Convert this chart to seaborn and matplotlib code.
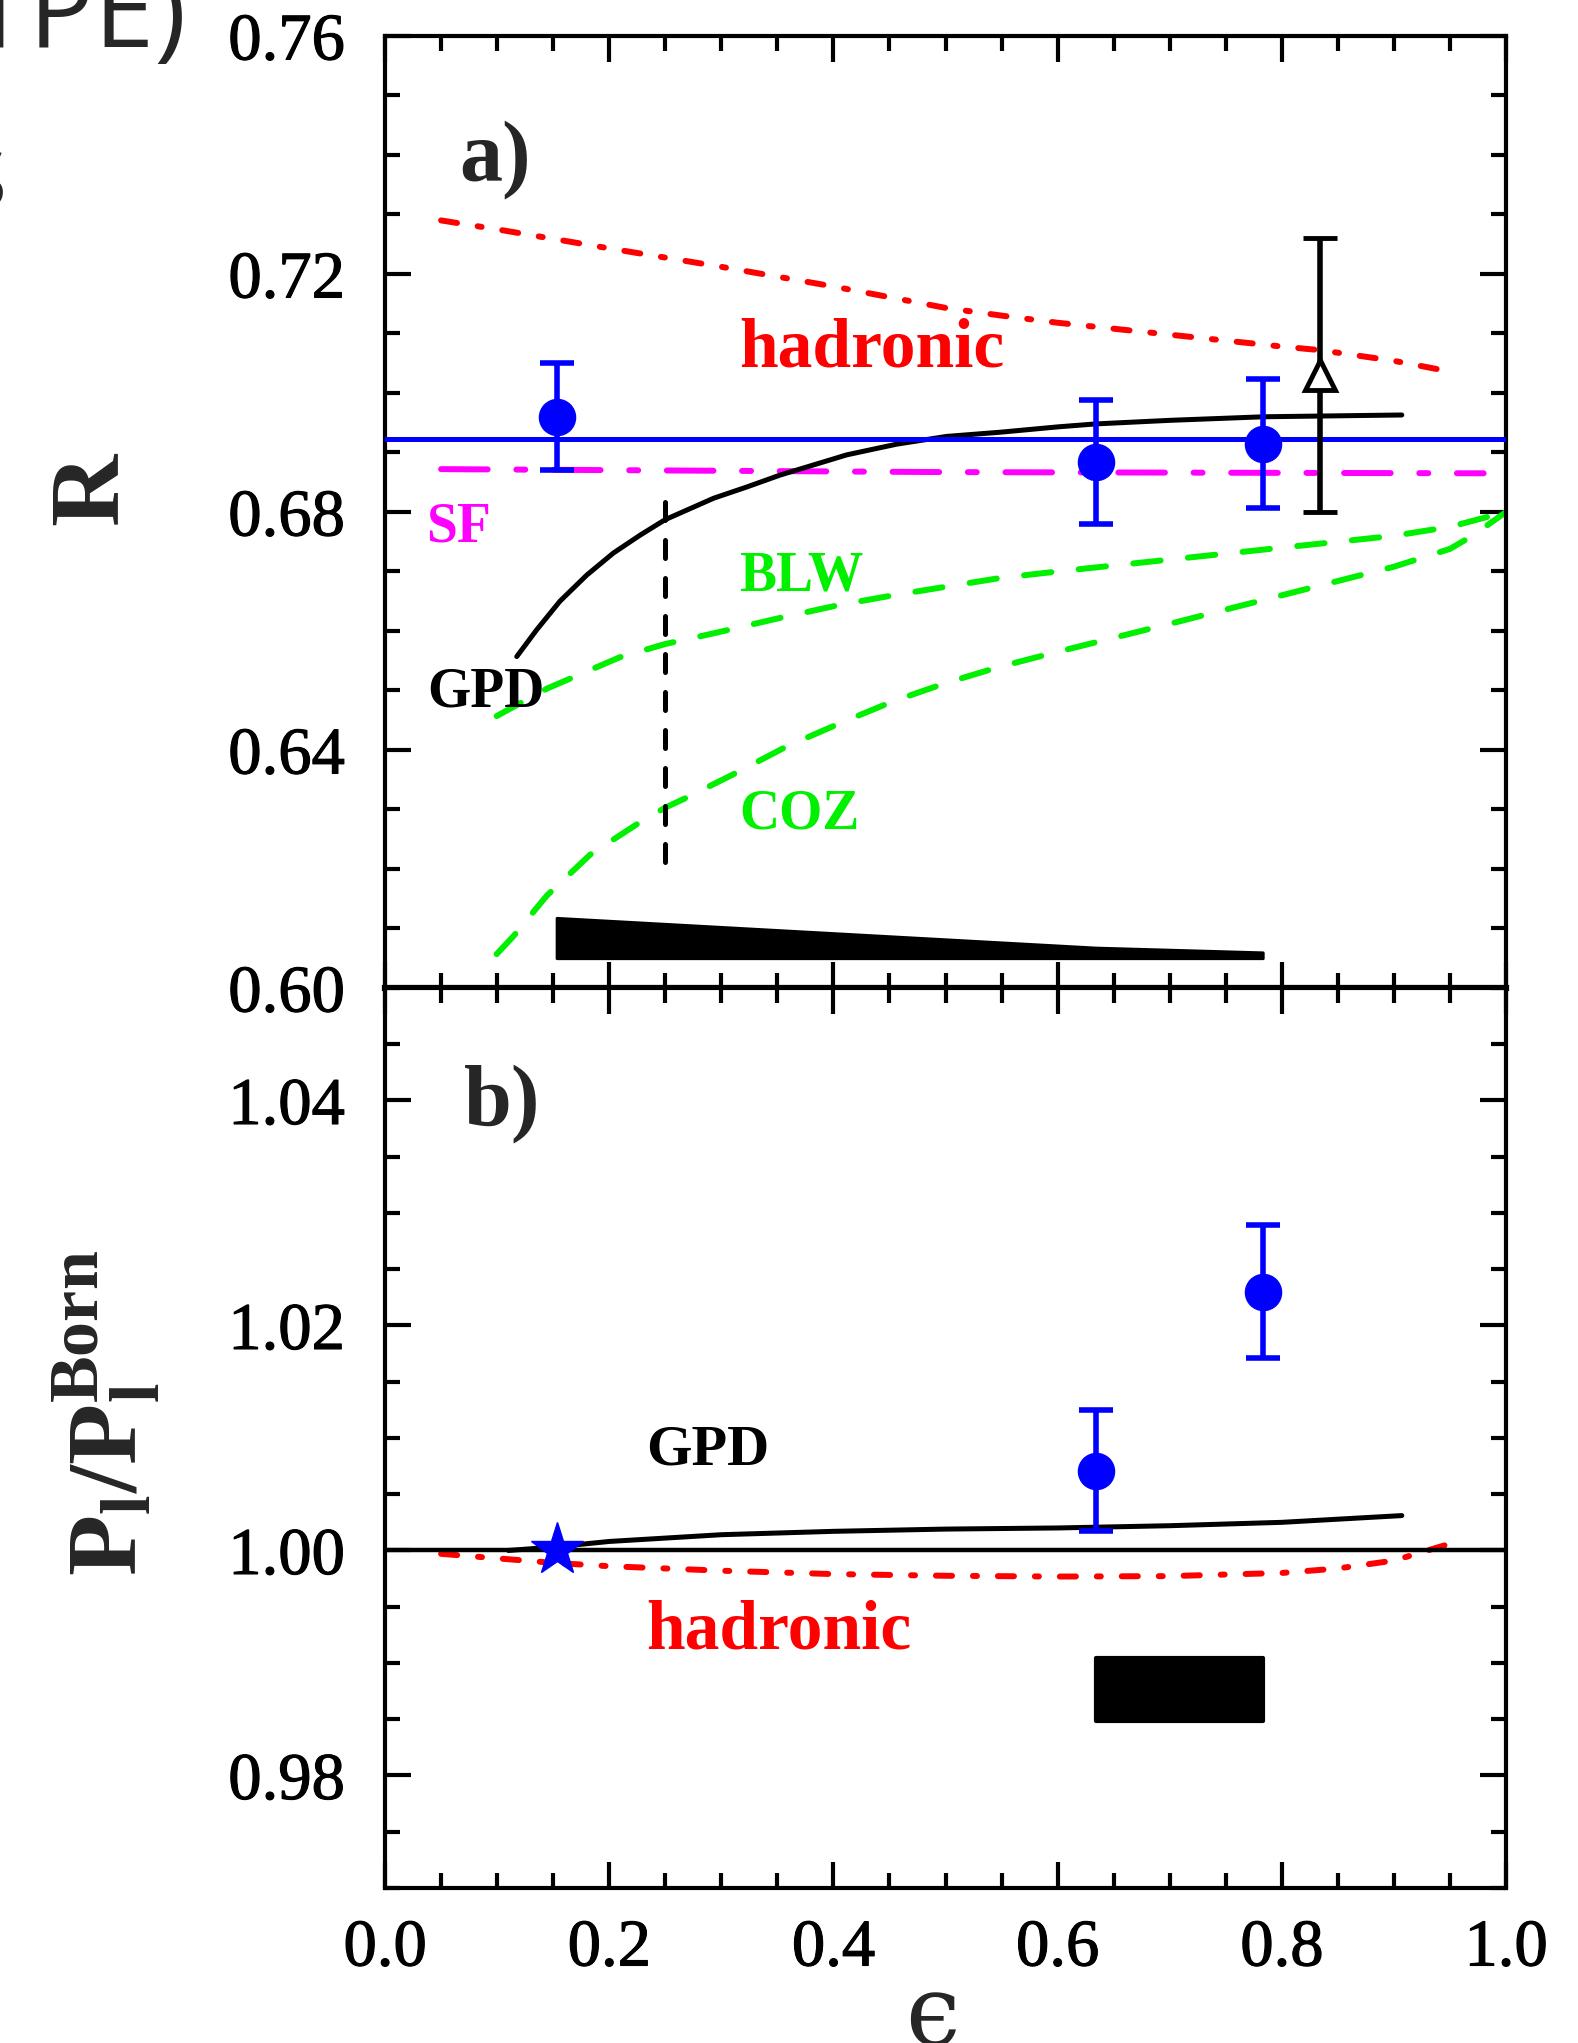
import matplotlib
matplotlib.use("Agg")
import matplotlib.pyplot as plt
import matplotlib.patheffects as pe
import seaborn as sns
from matplotlib.ticker import MultipleLocator, FixedLocator, FormatStrFormatter

# ---------------- data: panel a (ratio R vs epsilon) ----------------
eps_points = [0.153, 0.634, 0.783]
R_points = [0.6960, 0.6884, 0.6915]
R_err = [0.0090, 0.0105, 0.0108]

eps_tri = [0.834]
R_tri = [0.7030]
R_tri_err = [0.0230]

R_fit = 0.6922

eps_had_a = [0.05, 0.10, 0.20, 0.30, 0.40, 0.50, 0.55, 0.60, 0.70, 0.80, 0.834, 0.90, 0.95]
R_had_a = [0.7290, 0.7275, 0.7243, 0.7212, 0.7179, 0.7143, 0.7130, 0.7118, 0.7098, 0.7078, 0.7072, 0.7054, 0.7036]

eps_gpd_a = [0.1175, 0.1353, 0.156, 0.18, 0.2037, 0.2275, 0.2498, 0.293, 0.3227, 0.3524,
             0.4119, 0.4565, 0.501, 0.5486, 0.60, 0.634, 0.70, 0.784, 0.907]
R_gpd_a = [0.6557, 0.6602, 0.6650, 0.6694, 0.6731, 0.6761, 0.6787, 0.6823, 0.6842, 0.6862,
           0.6896, 0.6914, 0.6927, 0.6934, 0.6943, 0.6948, 0.6954, 0.6960, 0.6963]

eps_sf = [0.05, 0.50, 0.98]
R_sf = [0.6872, 0.6867, 0.6865]

eps_blw = [0.0996, 0.1442, 0.2096, 0.2498, 0.293, 0.3524, 0.4059, 0.4565, 0.5486,
           0.60, 0.70, 0.80, 0.90, 0.95, 1.00]
R_blw = [0.6457, 0.6503, 0.6556, 0.6578, 0.6596, 0.6622, 0.6644, 0.6661, 0.6689,
         0.6700, 0.6720, 0.6740, 0.6760, 0.6775, 0.6800]

eps_coz = [0.0996, 0.1145, 0.1442, 0.1829, 0.2245, 0.2498, 0.2691, 0.3137, 0.3583, 0.4059,
           0.4534, 0.501, 0.5486, 0.60, 0.70, 0.80, 0.90, 0.95, 0.97, 1.00]
R_coz = [0.6057, 0.6087, 0.6155, 0.6224, 0.6275, 0.6303, 0.6320, 0.6362, 0.6406, 0.6445,
         0.6482, 0.6513, 0.6540, 0.6565, 0.6612, 0.6660, 0.6708, 0.6738, 0.6760, 0.6800]

eps_cut = [0.25, 0.25]
R_cut = [0.6211, 0.6834]

sys_base_a = 0.6050
sys_top_a = [0.6118, 0.6068, 0.6060]

# ---------------- data: panel b (P_l / P_l^Born vs epsilon) ----------------
eps_pb = [0.634, 0.783]
P_points = [1.0071, 1.0230]
P_err = [0.0054, 0.0059]

eps_star = [0.153]
P_star = [1.000]

eps_gpd_b = [0.11, 0.15, 0.20, 0.30, 0.40, 0.50, 0.60, 0.70, 0.80, 0.907]
P_gpd_b = [1.0000, 1.0003, 1.0008, 1.0014, 1.0017, 1.0019, 1.0020, 1.0022, 1.0025, 1.0031]

eps_had_b = [0.05, 0.10, 0.15, 0.20, 0.30, 0.40, 0.50, 0.60, 0.70, 0.80, 0.85, 0.90, 0.95]
P_had_b = [0.9997, 0.9993, 0.9989, 0.9986, 0.9982, 0.9979, 0.99775, 0.99768, 0.99772, 0.9980, 0.9984, 0.9991, 1.0006]

sys_base_b = 0.9848
sys_top_b = [0.9904, 0.9904]

# ---------------- style ----------------
sns.set_theme(style="ticks")
plt.rcParams.update({
    "font.family": ["Liberation Serif", "DejaVu Serif"],
    "font.weight": "bold",
    "mathtext.fontset": "custom",
    "mathtext.rm": "Liberation Serif:bold",
    "mathtext.bf": "Liberation Serif:bold",
    "mathtext.it": "Liberation Serif:bold",
    "axes.linewidth": 3.0,
    "axes.edgecolor": "black",
    "lines.dash_capstyle": "round",
    "lines.solid_capstyle": "round",
})

RED = "#ff0000"
GREEN = "#00f000"
MAGENTA = "#ff00ff"
BLUE = "#0000ff"

DASH_HAD = (0, (2.7, 3.5, 0.67, 3.5))
DASH_SF = (0, (7.8, 4.8, 1.5, 4.8))
DASH_GREEN = (0, (4.6, 4.6))
DASH_CUT = (0, (3.6, 4.0))

fig = plt.figure(figsize=(15.78, 20.43), dpi=100)
ax_a = fig.add_axes([0.2440, 0.5164, 0.7104, 0.4660])
ax_b = fig.add_axes([0.2440, 0.0759, 0.7104, 0.4405])

for ax in (ax_a, ax_b):
    ax.set_xlim(0.0, 1.0)
    ax.xaxis.set_major_locator(MultipleLocator(0.2))
    ax.xaxis.set_minor_locator(MultipleLocator(0.05))
    ax.tick_params(which="both", direction="in", top=True, right=True,
                   width=3, colors="black", labelsize=48)
    ax.tick_params(which="major", length=19)
    ax.tick_params(which="minor", length=11)
    ax.tick_params(axis="y", pad=29)
    ax.tick_params(axis="x", pad=22)
    for sp in ax.spines.values():
        sp.set_linewidth(3.0)
        sp.set_color("black")
    ax.set_facecolor("white")

# ---------------- panel a ----------------
ax = ax_a
ax.set_ylim(0.60, 0.76)
ax.yaxis.set_major_locator(FixedLocator([0.60, 0.64, 0.68, 0.72, 0.76]))
ax.yaxis.set_minor_locator(MultipleLocator(0.01))
ax.yaxis.set_major_formatter(FormatStrFormatter("%.2f"))
ax.tick_params(labelbottom=False)
ax.spines["bottom"].set_linewidth(4.5)

ax.axhline(R_fit, color=BLUE, lw=3.6, zorder=3)
sns.lineplot(x=eps_had_a, y=R_had_a, ax=ax, color=RED, lw=4.3, sort=False,
             estimator=None, linestyle=DASH_HAD)
sns.lineplot(x=eps_sf, y=R_sf, ax=ax, color=MAGENTA, lw=4.3, sort=False,
             estimator=None, linestyle=DASH_SF)
sns.lineplot(x=eps_blw, y=R_blw, ax=ax, color=GREEN, lw=4.3, sort=False,
             estimator=None, linestyle=DASH_GREEN)
sns.lineplot(x=eps_coz, y=R_coz, ax=ax, color=GREEN, lw=4.3, sort=False,
             estimator=None, linestyle=DASH_GREEN)
sns.lineplot(x=eps_gpd_a, y=R_gpd_a, ax=ax, color="black", lw=3.6, sort=False,
             estimator=None)
sns.lineplot(x=eps_cut, y=R_cut, ax=ax, color="black", lw=3.6, sort=False,
             estimator=None, linestyle=DASH_CUT)

ax.fill_between(eps_points, sys_base_a, sys_top_a, color="black", lw=2, zorder=4)

ax.errorbar(eps_points, R_points, yerr=R_err, fmt="o", color=BLUE, ms=26,
            elinewidth=4, capsize=12.5, capthick=4, zorder=6)
ax.errorbar(eps_tri, R_tri, yerr=R_tri_err, fmt="^", color="black", ms=22,
            mfc="white", mec="black", mew=3.5, elinewidth=4, capsize=12.5,
            capthick=4, zorder=6)

ax.text(0.066, 0.7357, "a)", fontsize=62, fontweight="bold", va="baseline", ha="left")
ax.text(0.316, 0.7073, "hadronic", fontsize=50, fontweight="bold", color=RED,
        va="center", ha="left")
ax.text(0.037, 0.6774, "SF", fontsize=40, fontweight="bold", color=MAGENTA,
        va="center", ha="left")
ax.text(0.316, 0.6691, "BLW", fontsize=40, fontweight="bold", color=GREEN,
        va="center", ha="left")
ax.text(0.316, 0.6291, "COZ", fontsize=40, fontweight="bold", color=GREEN,
        va="center", ha="left")
ax.text(0.038, 0.6496, "GPD", fontsize=40, fontweight="bold", color="black",
        va="center", ha="left")

# ---------------- panel b ----------------
ax = ax_b
ax.set_ylim(0.97, 1.05)
ax.yaxis.set_major_locator(FixedLocator([0.98, 1.00, 1.02, 1.04]))
ax.yaxis.set_minor_locator(MultipleLocator(0.005))
ax.yaxis.set_major_formatter(FormatStrFormatter("%.2f"))
ax.xaxis.set_major_formatter(FormatStrFormatter("%.1f"))

ax.axhline(1.0, color="black", lw=3.2, zorder=3)
sns.lineplot(x=eps_gpd_b, y=P_gpd_b, ax=ax, color="black", lw=3.6, sort=False,
             estimator=None)
sns.lineplot(x=eps_had_b, y=P_had_b, ax=ax, color=RED, lw=4.3, sort=False,
             estimator=None, linestyle=DASH_HAD)

ax.fill_between(eps_pb, sys_base_b, sys_top_b, color="black", lw=3, zorder=4)

ax.errorbar(eps_pb, P_points, yerr=P_err, fmt="o", color=BLUE, ms=26,
            elinewidth=4, capsize=12.5, capthick=4, zorder=6)
ax.plot(eps_star, P_star, marker="*", color=BLUE, ms=40, ls="none", zorder=7)

ax.text(0.07, 1.0379, "b)", fontsize=62, fontweight="bold", va="baseline", ha="left")
ax.text(0.233, 1.0089, "GPD", fontsize=42, fontweight="bold", color="black",
        va="center", ha="left")
ax.text(0.233, 0.99283, "hadronic", fontsize=50, fontweight="bold", color=RED,
        va="center", ha="left")

# tick labels: regular face with a thin outline for a medium stroke weight
for ax in (ax_a, ax_b):
    for lab in ax.get_xticklabels() + ax.get_yticklabels():
        lab.set_fontweight("normal")
        lab.set_path_effects([pe.withStroke(linewidth=0.8, foreground="black")])

# ---------------- axis titles ----------------
fig.text(0.0583, 0.7606, "R", fontsize=72, fontweight="bold", rotation=90,
         ha="center", va="center")
fig.text(0.0670, 0.3085, r"$\mathbf{P_l/P_l^{Born}}$", fontsize=72, rotation=90,
         ha="center", va="center")
fig.text(0.5906, -0.001, "\u03f5", fontsize=70, family="DejaVu Serif",
         fontweight="normal", ha="center", va="baseline")

# slide heading fragments at the left edge
fig.text(187 / 1578, 1 - 47 / 2043, "(TPE)", fontsize=78, family="Open Sans",
         fontweight="normal", ha="right", va="baseline")
fig.text(8 / 1578, 1 - 208 / 2043, "effects", fontsize=78, family="Open Sans",
         fontweight="normal", ha="right", va="baseline")

fig.savefig("out.png", dpi=100, facecolor="white")
